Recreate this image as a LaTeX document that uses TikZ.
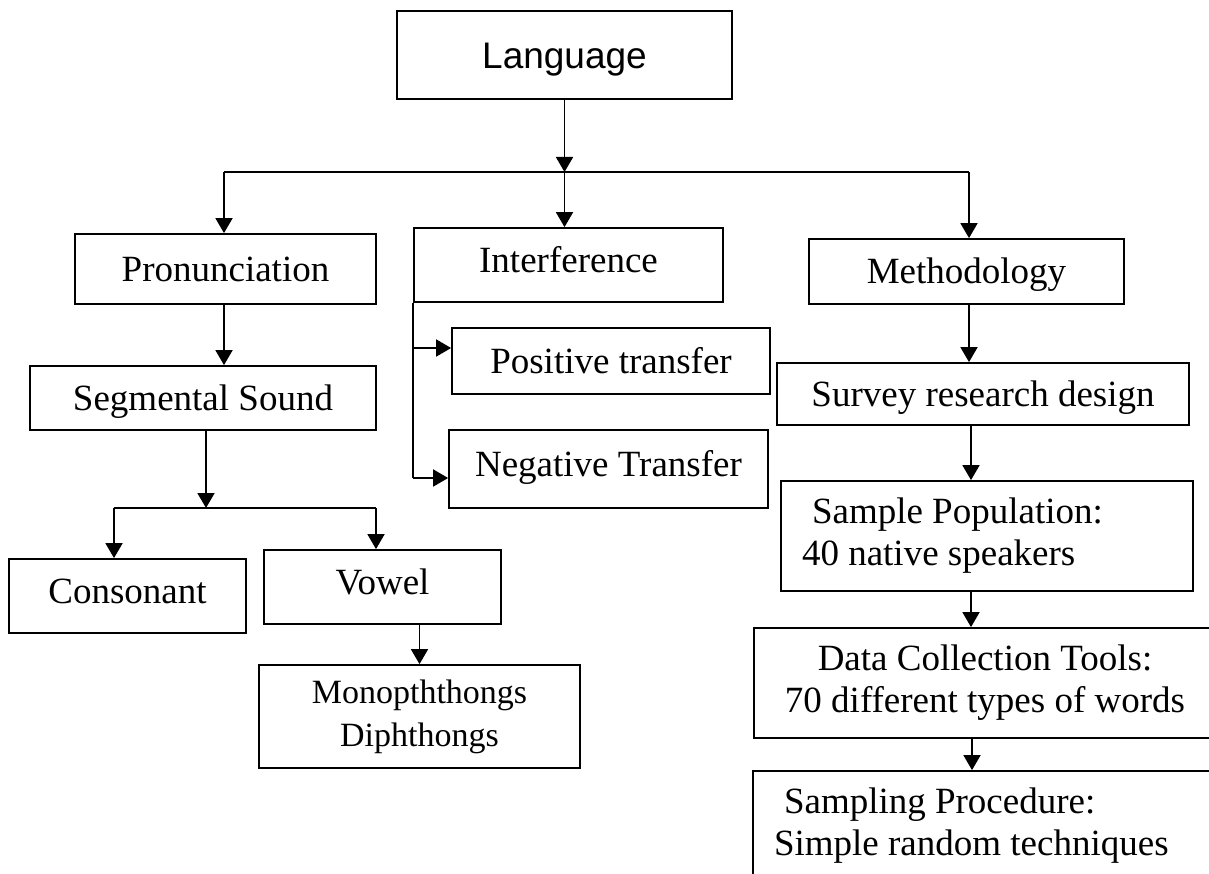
\documentclass[tikz,border=0pt]{standalone}
\usepackage{fontspec}
\setmainfont{Liberation Serif}
\setsansfont{Liberation Sans}
\usetikzlibrary{arrows.meta}
\begin{document}
\begin{tikzpicture}[x=1pt,y=-1pt,
  box/.style={draw, line width=1.8pt, inner sep=0pt, font=\fontsize{37}{42}\selectfont},
  onebox/.style={box, text height=25pt, text depth=0pt},
  highbox/.style={box, text height=25pt, text depth=10pt},
  arr/.style={line width=1.8pt, -{Triangle[width=17pt,length=15pt]}},
  link/.style={line width=1.8pt}]
  \useasboundingbox (0,0) rectangle (1209,874);
  \clip (0,0) rectangle (1209,874);
  \node[onebox, font=\sffamily\fontsize{37}{42}\selectfont, text height=27pt, minimum width=335pt, minimum height=88pt] (lang) at (564.5,55) {Language};
  \node[onebox, minimum width=301pt, minimum height=70pt] (pron) at (225.5,269) {Pronunciation};
  \node[highbox, minimum width=309pt, minimum height=74pt] (inter) at (568.5,265) {Interference};
  \node[onebox, minimum width=315pt, minimum height=65pt] (meth) at (966.5,271.5) {Methodology};
  \node[onebox, minimum width=346pt, minimum height=64pt] (seg) at (203,398) {Segmental Sound};
  \node[onebox, minimum width=318pt, minimum height=66pt] (pos) at (611,361) {Positive transfer};
  \node[highbox, minimum width=319pt, minimum height=78pt] (neg) at (608.5,469) {Negative Transfer};
  \node[onebox, minimum width=412pt, minimum height=62pt] (survey) at (983,394) {Survey research design};
  \node[box, text width=370pt, inner xsep=21pt, align=flush left, minimum height=110pt] (sample) at (987,536) {\hspace*{10pt}Sample Population:\\40 native speakers};
  \node[box, align=center, minimum width=462pt, minimum height=110pt] (data) at (985,683) {Data Collection Tools:\\70 different types of words};
  \node[box, text width=421pt, inner xsep=21pt, align=flush left, minimum height=110pt] (sampling) at (984.5,826) {\hspace*{10pt}Sampling Procedure:\\Simple random techniques};
  \node[highbox, minimum width=237pt, minimum height=74pt] (cons) at (127.5,596) {Consonant};
  \node[highbox, minimum width=237pt, minimum height=74pt] (vowel) at (382.5,587) {Vowel};
  \node[box, align=center, font=\fontsize{34}{43}\selectfont, minimum width=321pt, minimum height=103pt] (mono) at (419.5,716.5) {Monopththongs\\Diphthongs};
  \coordinate (busL) at (224,172);
  \coordinate (busM) at (lang.south |- 0,172);
  \coordinate (busR) at (969,172);
  \draw[arr] (lang.south) -- (busM);
  \draw[link] (busL) -- (busR);
  \draw[arr] (busL) -- (busL |- pron.north);
  \draw[arr] (busM) -- (busM |- inter.north);
  \draw[arr] (busR) -- (busR |- meth.north);
  \draw[arr] (busL |- pron.south) -- (busL |- seg.north);
  \coordinate (brL) at (114,508);
  \coordinate (brM) at (206,508);
  \coordinate (brR) at (376,508);
  \draw[arr] (brM |- seg.south) -- (brM);
  \draw[link] (brL) -- (brR);
  \draw[arr] (brL) -- (brL |- cons.north);
  \draw[arr] (brR) -- (brR |- vowel.north);
  \draw[arr] (mono.north |- vowel.south) -- (mono.north);
  \coordinate (intL) at (inter.south west);
  \draw[link] (intL) -- (intL |- 0,478);
  \draw[arr] (intL |- 0,348) -- (pos.west |- 0,348);
  \draw[arr] (intL |- 0,478) -- (neg.west |- 0,478);
  \draw[arr] (meth.south -| busR) -- (survey.north -| busR);
  \draw[arr] (survey.south -| 971,0) -- (sample.north -| 971,0);
  \draw[arr] (sample.south -| 971,0) -- (data.north -| 971,0);
  \draw[arr] (data.south -| 972,0) -- (sampling.north -| 972,0);
\end{tikzpicture}
\end{document}
